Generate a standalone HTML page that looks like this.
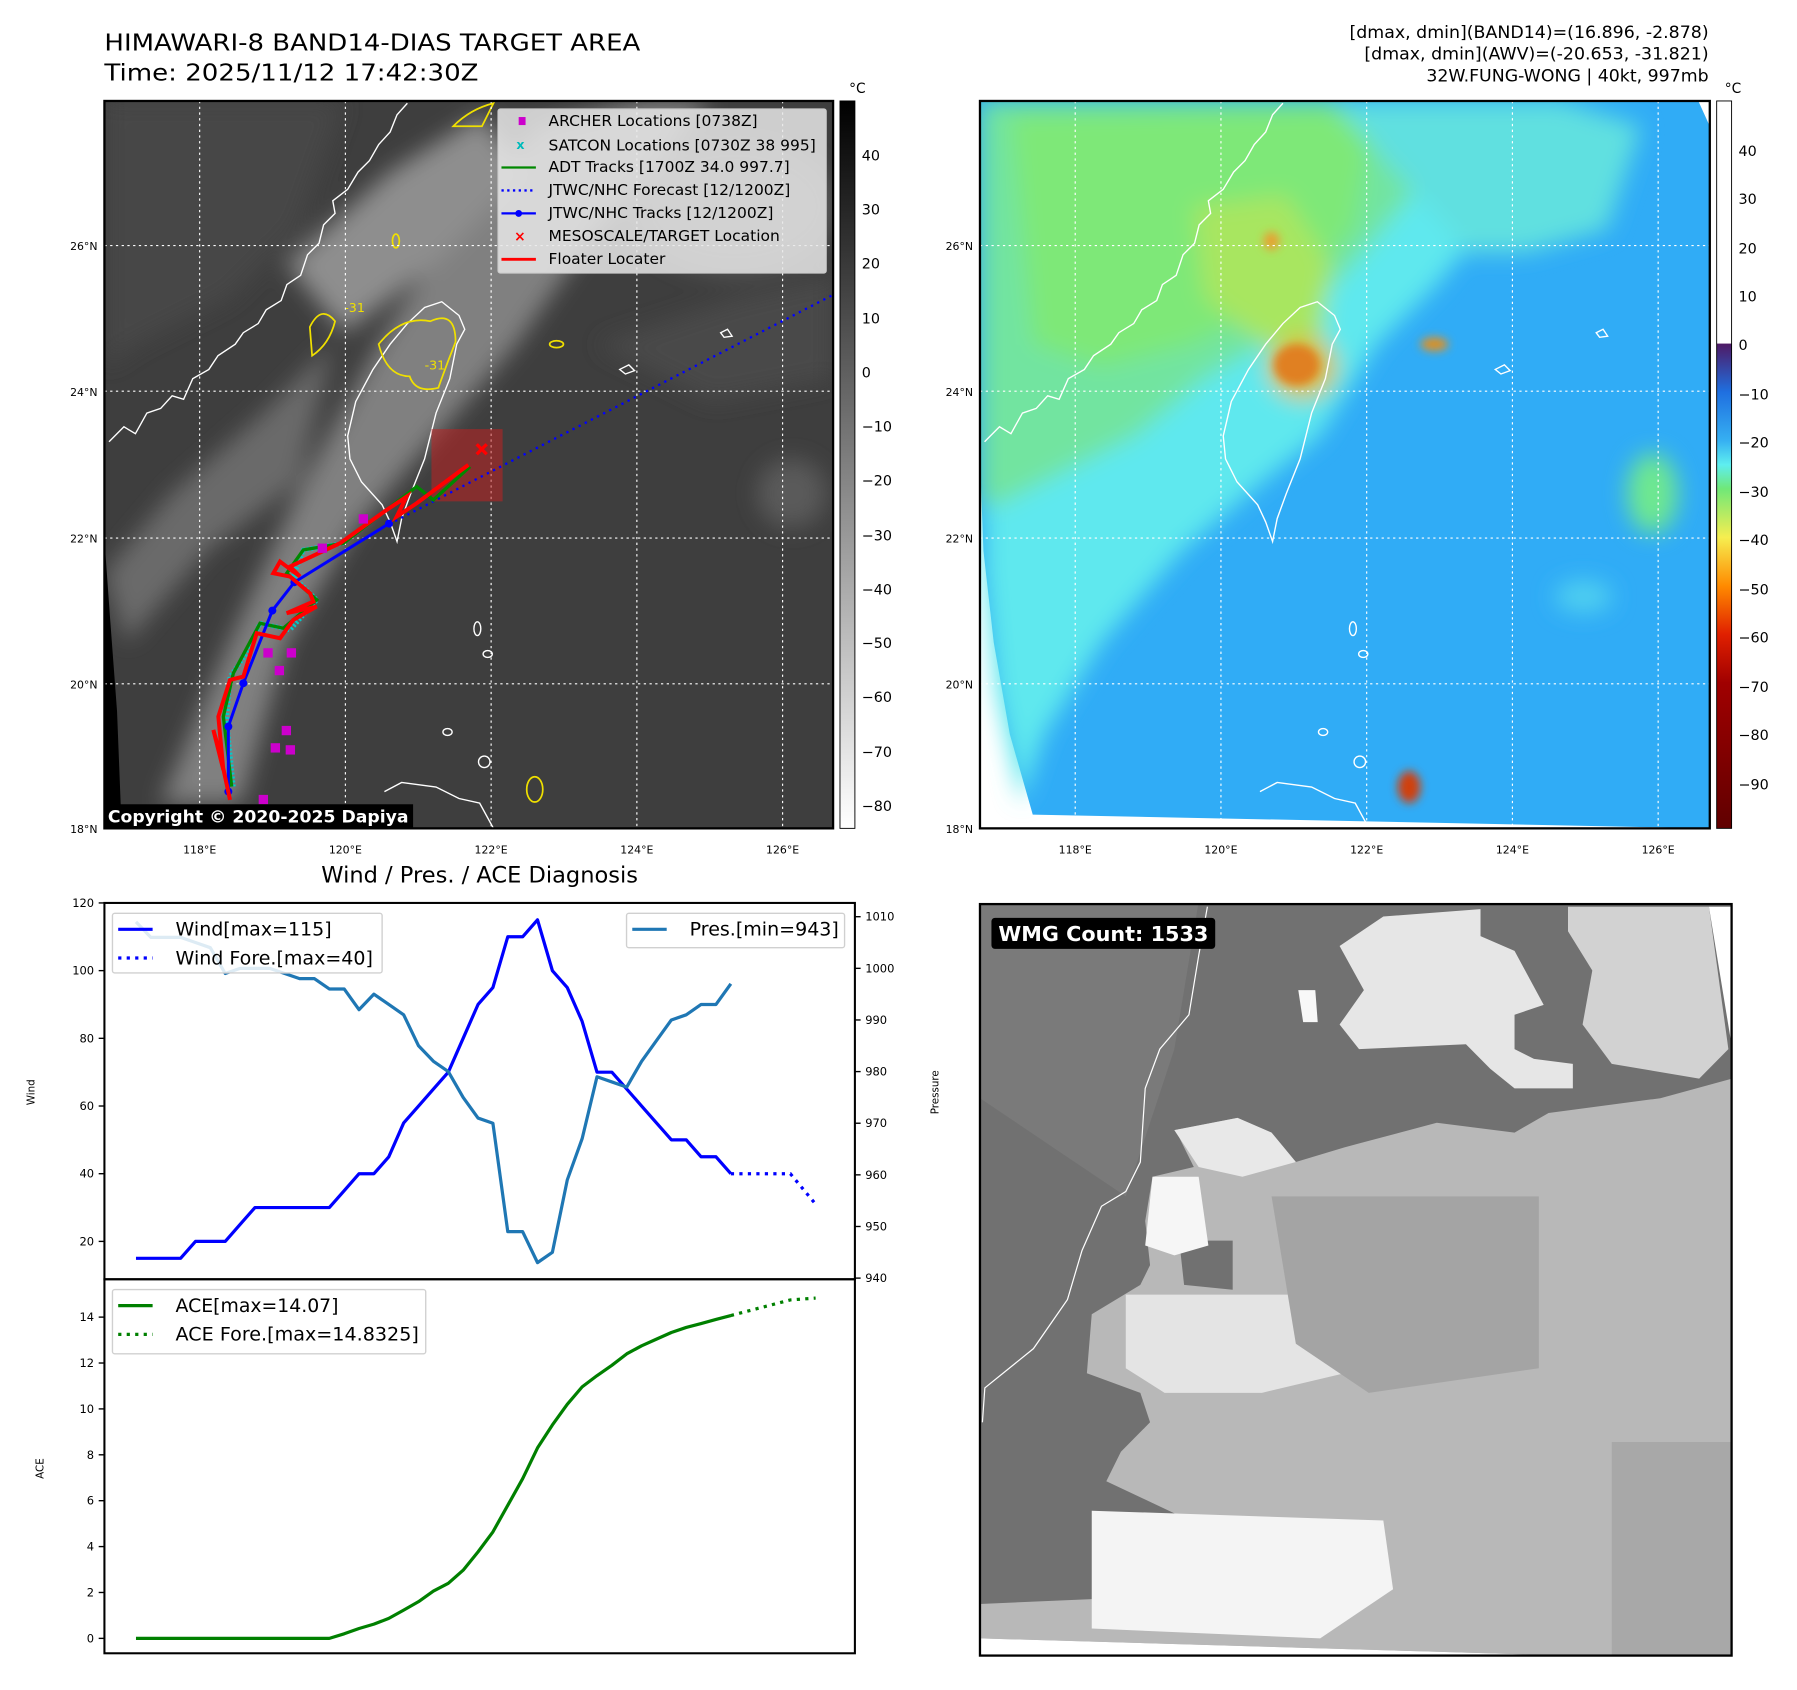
<!DOCTYPE html>
<html><head><meta charset="utf-8"><style>
html,body{margin:0;padding:0;background:#fff;}
svg{display:block;font-family:"DejaVu Sans","Liberation Sans",sans-serif;}
</style></head><body>
<svg id="root" width="1797" height="1690" viewBox="0 0 1566 1473" preserveAspectRatio="none" xmlns="http://www.w3.org/2000/svg">
<defs>
<filter id="blur8" x="-50%" y="-50%" width="200%" height="200%"><feGaussianBlur stdDeviation="10"/></filter>
<filter id="blur4" x="-50%" y="-50%" width="200%" height="200%"><feGaussianBlur stdDeviation="4"/></filter>
<clipPath id="clipL"><rect x="91" y="88" width="635" height="634"/></clipPath>
<clipPath id="clipR"><rect x="854" y="88" width="636" height="634"/></clipPath>
<clipPath id="clipB"><rect x="854" y="788" width="655" height="655"/></clipPath>
<linearGradient id="cbL" x1="0" y1="0" x2="0" y2="1"><stop offset="0" stop-color="#000"/><stop offset="1" stop-color="#fff"/></linearGradient>
<linearGradient id="cbR" x1="0" y1="0" x2="0" y2="1">
<stop offset="0" stop-color="#fff"/><stop offset="0.333" stop-color="#fff"/><stop offset="0.334" stop-color="#4f1a66"/>
<stop offset="0.4" stop-color="#1f6fe0"/><stop offset="0.467" stop-color="#36b0f2"/><stop offset="0.5" stop-color="#5eeef0"/>
<stop offset="0.533" stop-color="#70e878"/><stop offset="0.6" stop-color="#f6ee50"/><stop offset="0.667" stop-color="#ff8a00"/>
<stop offset="0.733" stop-color="#e02000"/><stop offset="0.8" stop-color="#a00000"/><stop offset="1" stop-color="#600000"/>
</linearGradient>
</defs>

<!-- Titles -->
<text x="91" y="44" font-size="20" textLength="467" lengthAdjust="spacingAndGlyphs" fill="#000">HIMAWARI-8 BAND14-DIAS TARGET AREA</text>
<text x="91" y="70" font-size="20" textLength="326" lengthAdjust="spacingAndGlyphs" fill="#000">Time: 2025/11/12 17:42:30Z</text>
<g font-size="14.5" text-anchor="end" fill="#000">
<text x="1489" y="33" textLength="313" lengthAdjust="spacingAndGlyphs">[dmax, dmin](BAND14)=(16.896, -2.878)</text>
<text x="1489" y="52" textLength="300" lengthAdjust="spacingAndGlyphs">[dmax, dmin](AWV)=(-20.653, -31.821)</text>
<text x="1489" y="71" textLength="246" lengthAdjust="spacingAndGlyphs">32W.FUNG-WONG | 40kt, 997mb</text>
</g>

<!-- LEFT MAP -->
<g clip-path="url(#clipL)">
<rect x="91" y="88" width="635" height="634" fill="#3e3e3e"/>
<g filter="url(#blur8)">
<polygon points="140,700 200,560 260,430 330,300 400,190 470,110 560,88 620,88 520,200 450,300 380,380 310,460 250,560 210,700" fill="#808080"/>
<polygon points="91,500 150,430 230,360 290,300 260,420 180,480 110,560" fill="#6a6a6a"/>
<polygon points="91,88 300,88 260,200 200,260 120,300 91,320" fill="#474747"/>
<polygon points="250,230 340,150 420,100 460,150 380,230 300,290" fill="#8e8e8e"/>
<polygon points="520,300 640,260 726,240 726,330 620,350" fill="#484848"/>
<ellipse cx="640" cy="180" rx="90" ry="60" fill="#575757"/>
<ellipse cx="690" cy="430" rx="30" ry="30" fill="#5a5a5a"/>
</g>
<polygon points="91,470 96,540 102,620 106,722 91,722" fill="#000"/>
<g fill="none" stroke="#fff" stroke-width="1.2">
<polyline points="95,385 108,372 118,378 128,360 140,356 150,345 160,348 168,330 182,322 190,310 205,300 212,290 225,282 232,270 245,262 250,248 262,240 268,222 278,212 282,196 292,186 290,175 303,165 312,150 322,140 330,126 340,115 346,100 355,90"/>
<polygon points="385,263 400,275 405,287 398,300 392,330 380,360 370,400 358,430 350,452 346,472 340,455 333,440 315,420 305,400 303,380 310,350 325,322 340,300 355,282 370,268"/>
<polyline points="335,690 350,682 380,686 400,696 418,700 430,722"/>
<ellipse cx="416" cy="548" rx="3" ry="6"/><ellipse cx="425" cy="570" rx="4" ry="3"/><ellipse cx="390" cy="638" rx="4" ry="3"/><ellipse cx="422" cy="664" rx="5" ry="5"/>
<path d="M540 322 l8 -4 l5 5 l-8 3z"/><path d="M628 290 l6 -3 l4 6 l-7 1z"/>
</g>
<g fill="none" stroke="#f0e000" stroke-width="1.5">
<path d="M330 300 q20 -25 45 -20 q22 -10 22 18 q-8 20 -15 40 q-20 5 -25 -10 q-20 0 -27 -28z"/>
<path d="M270 285 q10 -20 22 -5 q-5 20 -20 30z"/><path d="M395 110 q15 -15 35 -20 l-10 20z"/>
<ellipse cx="345" cy="210" rx="3" ry="6"/><ellipse cx="485" cy="300" rx="6" ry="3"/>
<ellipse cx="466" cy="688" rx="7" ry="11"/>
</g>
<g fill="#f0e000" font-size="11"><text x="300" y="272">-31</text><text x="370" y="322">-31</text></g>
<g stroke="#fff" stroke-width="1" stroke-dasharray="2,3">
<line x1="174" y1="88" x2="174" y2="722"/><line x1="301" y1="88" x2="301" y2="722"/><line x1="428" y1="88" x2="428" y2="722"/><line x1="555" y1="88" x2="555" y2="722"/><line x1="682" y1="88" x2="682" y2="722"/>
<line x1="91" y1="214" x2="726" y2="214"/><line x1="91" y1="341" x2="726" y2="341"/><line x1="91" y1="469" x2="726" y2="469"/><line x1="91" y1="596" x2="726" y2="596"/>
</g>
<rect x="376" y="374" width="62" height="63" fill="#c02020" fill-opacity="0.55"/>
<line x1="339" y1="457" x2="726" y2="257" stroke="#00f" stroke-width="2" stroke-dasharray="2,4"/>
<g transform="translate(174.3,366) scale(0.2905)">
<polyline fill="none" stroke="#0cc" stroke-width="14" stroke-dasharray="6,6" points="100,1100 80,900 90,770 140,700 180,610 270,630 350,540 280,470 310,390 430,370"/>
<polyline fill="none" stroke="#080" stroke-width="10" points="95,1100 70,890 100,760 180,610 250,625 350,540 260,460 310,390 430,370 650,200 700,240 810,140"/>
<polyline fill="none" stroke="#00f" stroke-width="9" points="85,1115 85,920 130,790 217,572 283,487 567,311"/>
<g fill="#00f"><circle cx="85" cy="1115" r="12"/><circle cx="85" cy="920" r="12"/><circle cx="130" cy="790" r="12"/><circle cx="217" cy="572" r="12"/><circle cx="283" cy="487" r="12"/><circle cx="567" cy="311" r="12"/></g>
<polyline fill="none" stroke="#f00" stroke-width="12" points="90,1140 60,1000 40,930 70,1050 55,890 90,780 130,770 170,640 240,655 280,600 350,560 260,580 340,545 330,520 270,470 220,460 240,425 300,470 270,440 420,370 560,270 620,230 590,290 650,250 805,135"/>
<g stroke="#f00" stroke-width="10"><line x1="830" y1="73" x2="860" y2="103"/><line x1="860" y1="73" x2="830" y2="103"/></g>
<g fill="#c0c"><rect x="476" y="283" width="28" height="28"/><rect x="353" y="371" width="28" height="28"/><rect x="190" y="685" width="28" height="28"/><rect x="260" y="685" width="28" height="28"/><rect x="224" y="738" width="28" height="28"/><rect x="245" y="918" width="28" height="28"/><rect x="212" y="970" width="28" height="28"/><rect x="257" y="976" width="28" height="28"/><rect x="176" y="1125" width="28" height="28"/></g>
</g>
<g>
<rect x="434" y="95" width="286" height="143" fill="#e8e8e8" fill-opacity="0.85" stroke="#ccc" rx="2"/>
<g font-size="13.5" fill="#000">
<text x="478" y="110">ARCHER Locations [0738Z]</text>
<text x="478" y="131">SATCON Locations [0730Z 38 995]</text>
<text x="478" y="150">ADT Tracks [1700Z 34.0 997.7]</text>
<text x="478" y="170">JTWC/NHC Forecast [12/1200Z]</text>
<text x="478" y="190">JTWC/NHC Tracks [12/1200Z]</text>
<text x="478" y="210">MESOSCALE/TARGET Location</text>
<text x="478" y="230">Floater Locater</text>
</g>
<rect x="452" y="102" width="6" height="7" fill="#c0c"/>
<text x="450" y="130" font-size="11" fill="#0bb" font-weight="bold">x</text>
<line x1="437" y1="146" x2="467" y2="146" stroke="#080" stroke-width="2"/>
<line x1="437" y1="166" x2="467" y2="166" stroke="#00f" stroke-width="2" stroke-dasharray="2,3"/>
<line x1="437" y1="186" x2="467" y2="186" stroke="#00f" stroke-width="2"/><circle cx="452" cy="186" r="3" fill="#00f"/>
<text x="448" y="210" font-size="12" fill="#f00" font-weight="bold">×</text>
<line x1="437" y1="226" x2="467" y2="226" stroke="#f00" stroke-width="2.5"/>
</g>
<rect x="91" y="701" width="269" height="21" fill="#000"/>
<text x="94" y="717" font-size="14.5" font-weight="bold" fill="#fff" textLength="262" lengthAdjust="spacingAndGlyphs">Copyright © 2020-2025 Dapiya</text>
</g>
<rect x="91" y="88" width="635" height="634" fill="none" stroke="#000" stroke-width="2"/>
<g font-size="9.5" text-anchor="end">
<text x="85" y="218">26°N</text><text x="85" y="345">24°N</text><text x="85" y="473">22°N</text><text x="85" y="600">20°N</text><text x="85" y="726">18°N</text></g>
<g font-size="9.5" text-anchor="middle">
<text x="174" y="744">118°E</text><text x="301" y="744">120°E</text><text x="428" y="744">122°E</text><text x="555" y="744">124°E</text><text x="682" y="744">126°E</text></g>
<rect x="732" y="88" width="13" height="634" fill="url(#cbL)" stroke="#000" stroke-width="0.8"/>
<text x="740" y="81" font-size="12">°C</text>
<g font-size="12.5">
<text x="751" y="140">40</text><text x="751" y="187">30</text><text x="751" y="234">20</text><text x="751" y="282">10</text><text x="751" y="329">0</text><text x="751" y="376">−10</text><text x="751" y="423">−20</text><text x="751" y="471">−30</text><text x="751" y="518">−40</text><text x="751" y="565">−50</text><text x="751" y="612">−60</text><text x="751" y="660">−70</text><text x="751" y="707">−80</text></g>

<!-- RIGHT MAP -->
<g clip-path="url(#clipR)">
<rect x="854" y="88" width="636" height="634" fill="#fff"/>
<polygon points="854,88 1480,88 1490,110 1490,722 900,710 880,640 866,560 857,480 854,400" fill="#30acf6"/>
<g filter="url(#blur8)">
<polygon points="854,88 1330,88 1300,190 1250,250 1200,300 1150,380 1100,420 1030,480 960,560 910,640 890,700 868,600 858,500" fill="#5ee8ee"/>
<polygon points="854,88 1240,88 1230,170 1180,230 1120,290 1050,330 990,380 930,410 870,440 854,440" fill="#72e4a0"/>
<polygon points="880,100 1200,92 1180,200 1120,260 1040,300 960,320 900,300" fill="#7ee878"/>
<polygon points="1160,88 1360,88 1430,110 1400,200 1330,220 1280,220" fill="#60e0e0"/>
<polygon points="1040,180 1120,170 1160,230 1150,300 1100,300 1050,260" fill="#a8e660"/>
<ellipse cx="1135" cy="320" rx="30" ry="28" fill="#d8c040"/>
<ellipse cx="1440" cy="430" rx="22" ry="35" fill="#6ee890"/>
<ellipse cx="1380" cy="520" rx="25" ry="14" fill="#50d0f0"/>
</g>
<g filter="url(#blur4)"><ellipse cx="1130" cy="318" rx="20" ry="18" fill="#e08020"/><ellipse cx="1228" cy="686" rx="10" ry="14" fill="#d04010"/><ellipse cx="1250" cy="300" rx="12" ry="6" fill="#e09020"/><ellipse cx="1108" cy="210" rx="7" ry="8" fill="#e8a030"/></g>
<g fill="none" stroke="#fff" stroke-width="1.2" transform="translate(763,0)">
<polyline points="95,385 108,372 118,378 128,360 140,356 150,345 160,348 168,330 182,322 190,310 205,300 212,290 225,282 232,270 245,262 250,248 262,240 268,222 278,212 282,196 292,186 290,175 303,165 312,150 322,140 330,126 340,115 346,100 355,90"/>
<polygon points="385,263 400,275 405,287 398,300 392,330 380,360 370,400 358,430 350,452 346,472 340,455 333,440 315,420 305,400 303,380 310,350 325,322 340,300 355,282 370,268"/>
<polyline points="335,690 350,682 380,686 400,696 418,700 430,722"/>
<ellipse cx="416" cy="548" rx="3" ry="6"/><ellipse cx="425" cy="570" rx="4" ry="3"/><ellipse cx="390" cy="638" rx="4" ry="3"/><ellipse cx="422" cy="664" rx="5" ry="5"/>
<path d="M540 322 l8 -4 l5 5 l-8 3z"/><path d="M628 290 l6 -3 l4 6 l-7 1z"/>
</g>
<g stroke="#fff" stroke-width="1" stroke-dasharray="2,3">
<line x1="937" y1="88" x2="937" y2="722"/><line x1="1064" y1="88" x2="1064" y2="722"/><line x1="1191" y1="88" x2="1191" y2="722"/><line x1="1318" y1="88" x2="1318" y2="722"/><line x1="1445" y1="88" x2="1445" y2="722"/>
<line x1="854" y1="214" x2="1490" y2="214"/><line x1="854" y1="341" x2="1490" y2="341"/><line x1="854" y1="469" x2="1490" y2="469"/><line x1="854" y1="596" x2="1490" y2="596"/>
</g>
</g>
<rect x="854" y="88" width="636" height="634" fill="none" stroke="#000" stroke-width="2"/>
<g font-size="9.5" text-anchor="end">
<text x="848" y="218">26°N</text><text x="848" y="345">24°N</text><text x="848" y="473">22°N</text><text x="848" y="600">20°N</text><text x="848" y="726">18°N</text></g>
<g font-size="9.5" text-anchor="middle">
<text x="937" y="744">118°E</text><text x="1064" y="744">120°E</text><text x="1191" y="744">122°E</text><text x="1318" y="744">124°E</text><text x="1445" y="744">126°E</text></g>
<rect x="1496" y="88" width="13" height="634" fill="url(#cbR)" stroke="#000" stroke-width="0.8"/>
<text x="1503" y="81" font-size="12">°C</text>
<g font-size="12.5">
<text x="1515" y="136">40</text><text x="1515" y="178">30</text><text x="1515" y="221">20</text><text x="1515" y="263">10</text><text x="1515" y="305">0</text><text x="1515" y="348">−10</text><text x="1515" y="390">−20</text><text x="1515" y="433">−30</text><text x="1515" y="475">−40</text><text x="1515" y="518">−50</text><text x="1515" y="560">−60</text><text x="1515" y="603">−70</text><text x="1515" y="645">−80</text><text x="1515" y="688">−90</text></g>

<!-- BOTTOM RIGHT -->
<g clip-path="url(#clipB)">
<g transform="translate(854,786) scale(0.4235,0.428)">
<rect x="0" y="0" width="1548" height="1540" fill="#717171"/>
<polygon points="0,0 450,0 400,300 300,600 150,500 0,400" fill="#7a7a7a"/>
<polygon points="740,90 830,30 1030,15 1030,70 1100,100 1160,210 1100,230 1100,300 1140,320 1220,330 1220,380 1100,380 1050,340 1000,290 780,300 740,250 790,180" fill="#e6e6e6"/>
<polygon points="1210,10 1500,10 1540,300 1480,360 1300,330 1240,250 1260,140 1210,60" fill="#d2d2d2"/>
<polygon points="655,180 690,180 695,245 665,245" fill="#f8f8f8"/>
<polygon points="400,465 530,440 600,470 650,530 750,500 940,450 1100,470 1170,430 1400,400 1548,360 1548,1540 1380,1540 0,1500 0,1430 230,1420 290,1340 410,1330 410,1250 260,1180 290,1120 350,1060 330,1000 220,960 230,840 330,780 350,740 340,650 355,560 440,540 410,480" fill="#b8b8b8"/>
<polygon points="410,690 520,690 520,790 420,780" fill="#717171"/>
<polygon points="355,560 450,560 470,700 400,720 340,700" fill="#f6f6f6"/>
<polygon points="400,465 530,440 600,470 650,530 540,560 450,540" fill="#e8e8e8"/>
<polygon points="300,800 650,800 750,960 580,1000 380,1000 300,950" fill="#e4e4e4"/>
<polygon points="600,600 1150,600 1150,950 800,1000 650,900" fill="#a4a4a4"/>
<polygon points="230,1240 830,1260 850,1400 700,1500 230,1480" fill="#f4f4f4"/>
<polygon points="1300,1100 1548,1100 1548,1540 1300,1540" fill="#a8a8a8"/>
<polygon points="0,1500 1380,1540 0,1540" fill="#fff"/>
<polygon points="1500,10 1548,10 1548,300" fill="#fff"/>
<polyline fill="none" stroke="#fff" stroke-width="2.5" points="468,10 450,110 430,230 370,300 340,380 330,530 300,590 250,620 210,710 180,810 110,910 10,990 5,1060"/>
</g>
<rect x="864" y="800" width="195" height="27" rx="3" fill="#000"/>
<text x="870" y="820" font-size="17.5" font-weight="bold" fill="#fff" textLength="183" lengthAdjust="spacingAndGlyphs">WMG Count: 1533</text>
</g>
<rect x="854" y="788" width="655" height="655" fill="none" stroke="#000" stroke-width="2"/>

<!-- BOTTOM LEFT CHART -->
<text x="418" y="769" font-size="19" text-anchor="middle" textLength="276" lengthAdjust="spacingAndGlyphs">Wind / Pres. / ACE Diagnosis</text>
<g id="chart"></g>
</svg>
<script>
const timeSteps = [0,1,2,3,4,5,6,7,8,9,10,11,12,13,14,15,16,17,18,19,20,21,22,23,24,25,26,27,28,29,30,31,32,33,34,35,36,37,38,39,40];
const windValues = [15,15,15,15,20,20,20,25,30,30,30,30,30,30,35,40,40,45,55,60,65,70,80,90,95,110,110,115,100,95,85,70,70,65,60,55,50,50,45,45,40];
const presValues = [1009,1006,1006,1006,1005,1004,999,1000,1000,1000,999,998,998,996,996,992,995,993,991,985,982,980,975,971,970,949,949,943,945,959,967,979,978,977,982,986,990,991,993,993,997];
const aceValues = [0,0,0,0,0,0,0,0,0,0,0,0,0,0,0.2,0.43,0.62,0.87,1.23,1.6,2.06,2.4,2.97,3.77,4.64,5.8,6.96,8.3,9.3,10.2,10.96,11.45,11.9,12.4,12.75,13.04,13.33,13.55,13.72,13.9,14.07];
const foreSteps = [40,44,45.7];
const windFore = [40,40,31];
const aceFore = [14.07,14.75,14.83];
const windTicks = [20,40,60,80,100,120];
const presTicks = [940,950,960,970,980,990,1000,1010];
const aceTicks = [0,2,4,6,8,10,12,14];

const NS='http://www.w3.org/2000/svg';
const chart=document.getElementById('chart');
const X0=91,X1=745,YT=787,YM=1115,YB=1441;
function xS(i){return 118.5+i*12.96;}
function yW(v){return YT+(120-v)*2.95;}
function yP(p){return 799+(1010-p)*4.5;}
function yA(a){return 1428-a*20;}
function mk(tag,attrs,parent){const e=document.createElementNS(NS,tag);for(const k in attrs)e.setAttribute(k,attrs[k]);(parent||chart).appendChild(e);return e;}
function pts(xs,ys,fy){return xs.map((x,i)=>xS(x)+','+fy(ys[i])).join(' ');}

let bg=mk('rect',{x:X0,y:YT,width:X1-X0,height:YB-YT,fill:'#fff'});



windTicks.forEach(v=>{
 const y=yW(v);
 let t=mk('line',{x1:X0-5,x2:X0,y1:y,y2:y,stroke:'#000','stroke-width':1.2});
 
 
 let l=mk('text',{x:X0-9,y:y+3.5,'font-size':10,'text-anchor':'end'});l.textContent=v;
 
 
});
presTicks.forEach(v=>{
 const y=yP(v);
 let t=mk('line',{x1:X1,x2:X1+5,y1:y,y2:y,stroke:'#000','stroke-width':1.2});
 
 
 let l=mk('text',{x:X1+9,y:y+3.5,'font-size':10});l.textContent=v;
 
 
});
aceTicks.forEach(v=>{
 const y=yA(v);
 let t=mk('line',{x1:X0-5,x2:X0,y1:y,y2:y,stroke:'#000','stroke-width':1.2});
 
 
 let l=mk('text',{x:X0-9,y:y+3.5,'font-size':10,'text-anchor':'end'});l.textContent=v;
 
 
});
let wl=mk('text',{x:30,y:952,'font-size':9,'text-anchor':'middle',transform:'rotate(-90 30 952)'});wl.textContent='Wind';


let pl=mk('text',{x:818,y:952,'font-size':9,'text-anchor':'middle',transform:'rotate(-90 818 952)'});pl.textContent='Pressure';


let al=mk('text',{x:38,y:1280,'font-size':9,'text-anchor':'middle',transform:'rotate(-90 38 1280)'});al.textContent='ACE';



let wLine=mk('polyline',{points:pts(timeSteps,windValues,yW),fill:'none',stroke:'#0000ff','stroke-width':2.8,'stroke-linejoin':'round'});


let wf=mk('polyline',{points:pts(foreSteps,windFore,yW),fill:'none',stroke:'#0000ff','stroke-width':2.8,'stroke-dasharray':'2.8,4.6'});


let pLine=mk('polyline',{points:pts(timeSteps,presValues,yP),fill:'none',stroke:'#1f77b4','stroke-width':2.8,'stroke-linejoin':'round'});


let aLine=mk('polyline',{points:pts(timeSteps,aceValues,yA),fill:'none',stroke:'#008000','stroke-width':2.8,'stroke-linejoin':'round'});


let af=mk('polyline',{points:pts(foreSteps,aceFore,yA),fill:'none',stroke:'#008000','stroke-width':2.8,'stroke-dasharray':'2.8,4.6'});



let f1=mk('rect',{x:X0,y:YT,width:X1-X0,height:YM-YT,fill:'none',stroke:'#000','stroke-width':1.8});


let f2=mk('rect',{x:X0,y:YM,width:X1-X0,height:YB-YM,fill:'none',stroke:'#000','stroke-width':1.8});



function legend(name,x,y,w,h,items){
 const g=mk('g',{});
 
 
 mk('rect',{x:x,y:y,width:w,height:h,rx:2,fill:'#fff','fill-opacity':0.85,stroke:'#d0d0d0','stroke-width':1.2},g);
 items.forEach((it,i)=>{
  const yy=y+14+i*25;
  mk('line',{x1:x+5,x2:x+35,y1:yy,y2:yy,stroke:it.c,'stroke-width':2.8,'stroke-dasharray':it.d||'none'},g);
  const t=mk('text',{x:x+55,y:yy+5.5,'font-size':16,textLength:it.w,lengthAdjust:'spacingAndGlyphs'},g);t.textContent=it.t;
 });
}
legend('wind-legend',98,796,235,52,[{c:'#0000ff',t:'Wind[max=115]',w:136},{c:'#0000ff',t:'Wind Fore.[max=40]',w:172,d:'2.8,4.6'}]);
legend('pressure-legend',546,796,190,30,[{c:'#1f77b4',t:'Pres.[min=943]',w:130}]);
legend('ace-legend',98,1124,273,56,[{c:'#008000',t:'ACE[max=14.07]',w:142},{c:'#008000',t:'ACE Fore.[max=14.8325]',w:212,d:'2.8,4.6'}]);
</script>
</body></html>
